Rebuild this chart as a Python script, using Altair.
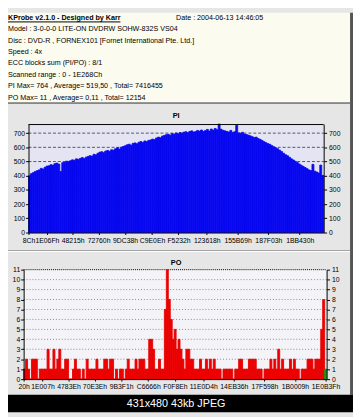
import altair as alt
import pandas as pd

FONT = "Liberation Sans"

# ---------------- text content ----------------
title_text = "KProbe v2.1.0 - Designed by Karr"
date_text = "Date : 2004-06-13 14:46:05"
info_lines = [
    "Model : 3-0-0-0 LITE-ON DVDRW SOHW-832S  VS04",
    "Disc : DVD-R , FORNEX101 [Fornet International Pte. Ltd.]",
    "Speed : 4x",
    "ECC blocks sum (PI/PO) : 8/1",
    "Scanned range : 0 - 1E268Ch",
    "PI Max= 764 , Average= 519,50 , Total= 7416455",
    "PO Max= 11 , Average= 0,11 , Total= 12154",
]
pi_title = "PI"
po_title = "PO"
caption = "431x480 43kb JPEG"

# ---------------- data ----------------
lba_end = 0x1E268C
pi_max = 764
po_max = 11

pi_x_ticks = [0x8C, 0x1E06F, 0x48215, 0x72760, 0x9DC38, 0xC9E0E, 0xF5232,
              0x123618, 0x155B69, 0x187F03, 0x1BB430]
po_x_ticks = [0x20, 0x1E007, 0x4783E, 0x70E3E, 0x9B3F1, 0xC6666, 0xF0F8E,
              0x11E0D4, 0x14EB36, 0x17F598, 0x1B0009, 0x1E0B3F]
pi_y_ticks = [0, 100, 200, 300, 400, 500, 600, 700]
po_y_ticks = [0, 1, 2, 3, 4, 5, 6, 7, 8, 9, 10, 11]

pi_values = [
    398, 415, 422, 430, 436, 441, 452, 447, 460, 468,
    470, 478, 474, 485, 489, 482, 430, 492, 495, 503,
    498, 506, 512, 509, 519, 515, 522, 528, 520, 531,
    536, 541, 538, 551, 547, 558, 566, 569, 562, 574,
    578, 572, 583, 580, 590, 597, 588, 601, 606, 611,
    618, 622, 615, 628, 631, 625, 636, 641, 634, 645,
    640, 649, 652, 658, 654, 666, 672, 668, 679, 684,
    689, 692, 686, 697, 693, 701, 695, 704, 699, 707,
    710, 703, 712, 716, 708, 711, 719, 714, 722, 712,
    718, 726, 715, 729, 721, 733, 724, 764, 728, 720,
    716, 712, 708, 719, 705, 710, 755, 702, 698, 706,
    694, 690, 686, 681, 675, 669, 672, 662, 656, 648,
    640, 633, 626, 621, 612, 604, 597, 590, 580, 570,
    558, 548, 541, 530, 519, 511, 502, 494, 483, 474,
    466, 458, 450, 441, 436, 480, 432, 426, 419, 475, 402,
]

po_values = [
    1, 2, 1, 0, 2, 2, 2, 0, 1, 1,
    1, 1, 3, 1, 1, 3, 1, 2, 3, 1,
    1, 2, 2, 0, 0, 1, 2, 1, 1, 0,
    1, 0, 2, 1, 1, 1, 1, 2, 1, 1,
    1, 2, 2, 1, 2, 2, 0, 1, 0, 1,
    1, 0, 1, 2, 1, 1, 1, 2, 1, 2,
    2, 2, 1, 1, 4, 4, 3, 1, 1, 2,
    1, 1, 7, 11, 8, 6, 4, 5, 3, 4,
    3, 2, 1, 3, 3, 2, 2, 1, 1, 1,
    2, 1, 1, 2, 1, 2, 1, 2, 1, 1,
    1, 0, 1, 1, 1, 1, 1, 0, 1, 1,
    2, 2, 1, 1, 1, 2, 2, 2, 2, 1,
    1, 1, 0, 1, 1, 1, 2, 1, 2, 1,
    3, 1, 2, 1, 1, 1, 2, 1, 2, 1,
    1, 0, 1, 1, 1, 2, 2, 2, 1, 2,
    2, 2, 5, 8, 1,
]

# ---------------- tables ----------------
def bar_table(vals):
    n = len(vals)
    return pd.DataFrame({
        "i": list(range(n)),
        "a": [k * lba_end / n for k in range(n)],
        "b": [(k + 1) * lba_end / n for k in range(n)],
        "v": vals,
    })

pi_df = bar_table(pi_values)
po_df = bar_table(po_values)
info_df = pd.DataFrame({"row": list(range(len(info_lines))), "txt": info_lines})
pi_grid_df = pd.DataFrame({"g": pi_y_ticks[1:]})
po_grid_df = pd.DataFrame({"g": po_y_ticks[1:-1]})
po_top_df = pd.DataFrame({"g": [po_max]})
one = pd.DataFrame({"k": [0]})

# ---------------- layout (chart pixel coords) ----------------
W, H = 353, 409
PI_L, PI_R, PI_T, PI_B = 21, 323, 114, 225
PO_L, PO_R, PO_T, PO_B = 16, 326, 263, 375

pi_xs = alt.Scale(domain=[0, lba_end], range=[PI_L, PI_R], nice=False, zero=False)
pi_ys = alt.Scale(domain=[0, pi_max], range=[PI_B, PI_T], nice=False, zero=False)
po_xs = alt.Scale(domain=[0, lba_end], range=[PO_L, PO_R], nice=False, zero=False)
po_ys = alt.Scale(domain=[0, po_max], range=[PO_B, PO_T], nice=False, zero=False)


def axis(orient, offset, values, hexfmt=False, tick=3, pad=1):
    kw = dict(orient=orient, offset=offset, values=values, title=None, grid=False,
              labelFont=FONT, labelFontSize=7, labelColor="#000000",
              tickColor="#000000", tickSize=tick, tickWidth=1,
              domainColor="#000000", domainWidth=1, labelPadding=pad,
              labelFlush=False, labelOverlap=False, labelBound=False, zindex=2)
    if hexfmt:
        kw["labelExpr"] = "format(datum.value, 'X') + 'h'"
    return alt.Axis(**kw)


def box(x1, y1, x2, y2, fill):
    return alt.Chart(one).mark_rect(fill=fill, strokeWidth=0).encode(
        x=alt.value(x1), x2=alt.value(x2), y=alt.value(y1), y2=alt.value(y2))


def hline(x1, x2, y, color, dash=None, sw=1):
    kw = dict(color=color, strokeWidth=sw)
    if dash:
        kw["strokeDash"] = dash
    return alt.Chart(one).mark_rule(**kw).encode(
        x=alt.value(x1), x2=alt.value(x2), y=alt.value(y))


def label(txt, x, y, size=7.3, bold=False, color="#000000", align="left", baseline="alphabetic"):
    return alt.Chart(one).mark_text(
        text=txt, font=FONT, fontSize=size, fontWeight="bold" if bold else "normal",
        color=color, align=align, baseline=baseline).encode(x=alt.value(x), y=alt.value(y))


layers = []
# panels
layers.append(box(0, 0, 350, 92, "#FBFBF0"))
layers.append(hline(0, 350, 92.5, "#303030"))
layers.append(box(350, 0, 353, 391, "#555555"))
layers.append(hline(0, 350, 243.5, "#9A9A9A"))
layers.append(hline(0, 350, 244.5, "#FFFFFF"))
layers.append(box(PI_L, PI_T, PI_R, PI_B, "#E4E4F3"))
layers.append(box(PO_L, PO_T, PO_R, PO_B, "#F4F4F8"))

# PI grid + right axis
layers.append(alt.Chart(pi_grid_df).mark_rule(color="#555555", strokeDash=[3, 2], strokeWidth=1).encode(
    y=alt.Y("g:Q", scale=pi_ys, axis=axis("right", PI_R - W, pi_y_ticks, pad=2)),
    x=alt.value(PI_L), x2=alt.value(PI_R)))
# PI bars + left/bottom axes
layers.append(alt.Chart(pi_df).mark_rect(color="#0808F0", stroke="#0808F0", strokeWidth=0.8).encode(
    x=alt.X("a:Q", scale=pi_xs, axis=axis("bottom", PI_B - H, pi_x_ticks, hexfmt=True, tick=2, pad=2)),
    x2="b:Q",
    y=alt.Y("v:Q", scale=pi_ys, axis=axis("left", -PI_L, pi_y_ticks)),
    y2=alt.datum(0)))
layers.append(hline(PI_L, PI_R, PI_T + 0.5, "#000000"))

# PO grid + right axis
layers.append(alt.Chart(po_grid_df).mark_rule(color="#8A8A8A", strokeDash=[1, 2], strokeWidth=1).encode(
    y=alt.Y("g:Q", scale=po_ys, axis=axis("right", PO_R - W, po_y_ticks, pad=2)),
    x=alt.value(PO_L), x2=alt.value(PO_R)))
layers.append(alt.Chart(po_top_df).mark_rule(color="#000000", strokeDash=[1, 1], strokeWidth=1).encode(
    y=alt.Y("g:Q", scale=po_ys, axis=None),
    x=alt.value(PO_L), x2=alt.value(PO_R)))
# PO bars + left/bottom axes
last = len(po_values) - 1
layers.append(alt.Chart(po_df).mark_rect(strokeWidth=0.9).encode(
    x=alt.X("a:Q", scale=po_xs, axis=axis("bottom", PO_B - H, po_x_ticks, hexfmt=True, tick=2, pad=2)),
    x2="b:Q",
    y=alt.Y("v:Q", scale=po_ys, axis=axis("left", -PO_L, po_y_ticks)),
    y2=alt.datum(0),
    color=alt.condition(alt.datum.i == last, alt.value("#129A12"), alt.value("#F20000")),
    stroke=alt.condition(alt.datum.i == last, alt.value("#129A12"), alt.value("#E60000"))))

# header texts
layers.append(label(title_text, 0, 8, bold=True))
layers.append(hline(0, 115, 9.5, "#000000"))
layers.append(label(date_text, 172, 8))
layers.append(alt.Chart(info_df).mark_text(
    font=FONT, fontSize=7.3, color="#000000", align="left", baseline="middle").encode(
    x=alt.value(0),
    y=alt.Y("row:Q", scale=alt.Scale(domain=[0, len(info_lines) - 1], range=[17, 87]), axis=None),
    text="txt:N"))
layers.append(label(pi_title, 172, 106, size=7.5, bold=True, align="center", baseline="middle"))
layers.append(label(po_title, 172, 256, size=7.5, bold=True, align="center", baseline="middle"))

# bottom caption strip
layers.append(box(0, 391, W, H, "#000000"))
layers.append(label(caption, 172, 400, size=11, color="#FFFFFF", align="center", baseline="middle"))

chart = alt.layer(*layers).resolve_scale(
    x="independent", y="independent", color="independent", stroke="independent"
).properties(
    width=W, height=H, autosize=alt.AutoSizeParams(type="none"), padding=0,
    background="#E6E6E6"
).configure_view(stroke=None)

chart.save("out.html", embed_options={"renderer": "svg", "actions": False})
